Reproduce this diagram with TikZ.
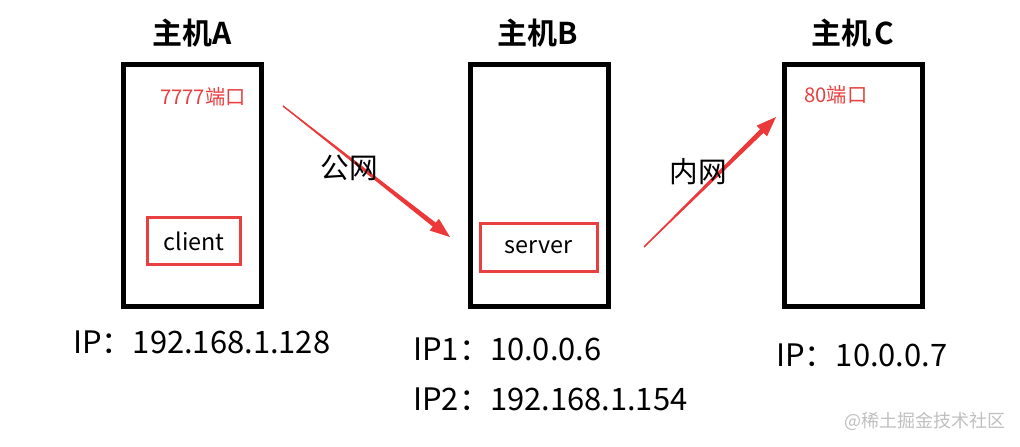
\documentclass[tikz,border=0pt]{standalone}
\usepackage{fontspec}
\setmainfont{Noto Sans CJK SC}[BoldFont={Noto Sans CJK SC Bold}]
\usepackage{xcolor}
\definecolor{portred}{RGB}{232,64,64}
\definecolor{linkred}{RGB}{236,56,56}
\usetikzlibrary{arrows.meta, positioning, calc}

\begin{document}
\begin{tikzpicture}[x=0.75pt, y=-0.75pt, >={Triangle[length=15pt, width=11pt]}]
    \tikzset{
        host/.style={rectangle, draw=black, line width=3.75pt, minimum width=103.5pt, minimum height=181.5pt, inner sep=0pt},
        hosttitle/.style={font=\bfseries\fontsize{22.5}{24}\selectfont, inner sep=0pt},
        port/.style={text=portred, font=\fontsize{15.2}{17}\selectfont, inner sep=0pt},
        app/.style={rectangle, draw=portred, line width=2.25pt, minimum height=35.5pt, font=\fontsize{17.5}{20}\selectfont},
        net/.style={font=\fontsize{21.5}{24}\selectfont, inner sep=0pt},
        ip/.style={anchor=west, font=\fontsize{23.2}{25}\selectfont, inner sep=0pt},
        link/.style={draw=linkred, line width=0.9pt, ->},
        wedge/.style={fill=linkred}
    }
    \useasboundingbox (0,0) rectangle (1020,446);

    % hosts
    \node (HostA) [host] at (192,185) {};
    \node (HostB) [host] at (539,185) {};
    \node (HostC) [host] at (853,185) {};

    \node (TitleA) [hosttitle] at (192,33) {主机A};
    \node (TitleB) [hosttitle] at (538,33) {主机B};
    \node (TitleC) [hosttitle] at (853,33) {主机\hspace{0.12em}C};

    \node (PortA) [port] at (203,97) {7777端口};
    \node (PortC) [port] at (836,95) {80端口};

    \node (Client) [app, minimum width=69.75pt] at (194,241) {client};
    \node (Server) [app, minimum width=87.75pt] at (538.5,247.5) {server};

    % links (shaft widens towards the head)
    \coordinate (PubFrom) at (283,106);
    \coordinate (PubTo) at (450,237);
    \coordinate (LanFrom) at (644,247);
    \coordinate (LanTo) at (776,117);
    \coordinate (PubBase) at ($(PubTo)!13pt!(PubFrom)$);
    \coordinate (LanBase) at ($(LanTo)!13pt!(LanFrom)$);
    \fill [wedge] ($(PubFrom)!0.4pt!90:(PubTo)$) -- ($(PubBase)!1.9pt!-90:(PubFrom)$) -- ($(PubBase)!1.9pt!90:(PubFrom)$) -- ($(PubFrom)!0.4pt!-90:(PubTo)$) -- cycle;
    \fill [wedge] ($(LanFrom)!0.4pt!90:(LanTo)$) -- ($(LanBase)!1.9pt!-90:(LanFrom)$) -- ($(LanBase)!1.9pt!90:(LanFrom)$) -- ($(LanFrom)!0.4pt!-90:(LanTo)$) -- cycle;
    \draw [link] (PubFrom) -- (PubTo);
    \draw [link] (LanFrom) -- (LanTo);
    \node (Pub) [net] at (349,168) {公网};
    \node (Lan) [net] at (698,172) {内网};

    % addresses
    \node (IpA) [ip] at (73,342) {IP：192.168.1.128};
    \node (IpB1) [ip] at (413,349) {IP1：10.0.0.6};
    \node (IpB2) [ip] at (413,399) {IP2：192.168.1.154};
    \node (IpC) [ip] at (776,355) {IP：10.0.0.7};

    \node (Mark) [text=gray!50, font=\fontsize{13.5}{15}\selectfont, inner sep=0pt] at (925,421) {@稀土掘金技术社区};
\end{tikzpicture}
\end{document}
